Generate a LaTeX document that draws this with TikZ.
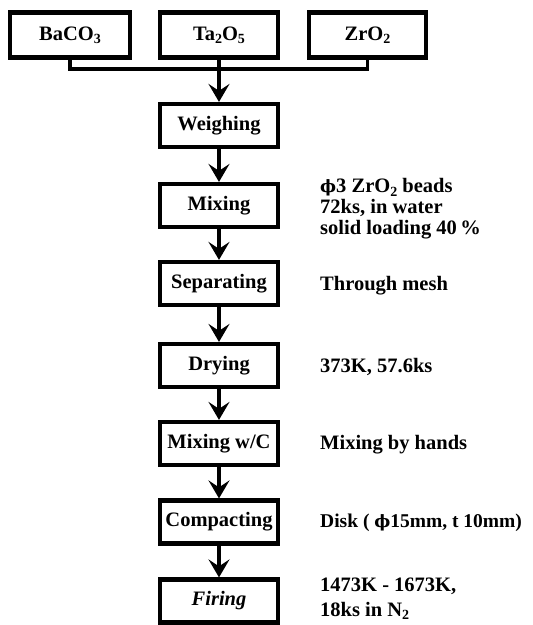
\documentclass[tikz,border=0pt]{standalone}
\usepackage{fontspec}
\setmainfont{Liberation Serif}
\newfontfamily\phifont{DejaVu Serif}
\usetikzlibrary{arrows.meta}
\newcommand{\lsub}[1]{\raisebox{-0.35ex}{\fontsize{14}{14}\selectfont #1}}
\newcommand{\phisym}{{\phifont\bfseries\fontsize{17}{17}\selectfont ϕ}}
\begin{document}
\begin{tikzpicture}[x=1pt,y=1pt,
  txt/.style={font=\fontsize{20.5}{22}\selectfont\bfseries},
  procbox/.style={draw, line width=4.2pt, minimum width=118pt, minimum height=43pt, inner sep=1pt, txt},
  srcbox/.style={procbox, minimum height=45pt},
  note/.style={anchor=west, align=left, inner sep=0pt, txt},
  conn/.style={line width=3.2pt},
  flow/.style={conn, -{Stealth[length=18pt,width=21pt,inset=7pt]}}
]
\useasboundingbox (0,0) rectangle (533,-625);
% source boxes
\node[srcbox, minimum width=120pt] (ba) at (70,-35) {BaCO\lsub{3}};
\node[srcbox] (ta) at (219,-35) {Ta\lsub{2}O\lsub{5}};
\node[srcbox, minimum width=117pt] (zr) at (367.5,-35) {ZrO\lsub{2}};
\coordinate (bar) at (219,-69);
% process boxes
\node[procbox] (w) at (219,-125.5) {Weighing};
\node[procbox] (m) at (219,-205.5) {Mixing};
\node[procbox] (s) at (219,-283.5) {Separating};
\node[procbox] (d) at (219,-365.5) {Drying};
\node[procbox] (mc) at (219,-443.5) {Mixing w/C};
\node[procbox] (c) at (219,-522) {Compacting};
\node[procbox] (f) at (219,-601) {\itshape Firing};
% connectors
\draw[conn] (ba.south) -- (ba.south |- bar) -- (zr.south |- bar) -- (zr.south);
\draw[flow] (ta.south) -- (w.north);
\draw[flow] (w) -- (m);
\draw[flow] (m) -- (s);
\draw[flow] (s) -- (d);
\draw[flow] (d) -- (mc);
\draw[flow] (mc) -- (c);
\draw[flow] (c) -- (f);
% notes
\node[note, font=\fontsize{20.5}{21}\selectfont\bfseries] (nm) at (320,-209) {\phisym3 ZrO\lsub{2} beads\\72ks, in water\\solid loading 40\,\%};
\node[note] (ns) at (320,-286) {Through mesh};
\node[note] (nd) at (320,-367) {373K, 57.6ks};
\node[note] (nmc) at (320,-445) {Mixing by hands};
\node[note, font=\fontsize{19.5}{22}\selectfont\bfseries] (nc) at (320,-523) {Disk ( \phisym15mm, t 10mm)};
\node[note, font=\fontsize{20.5}{24.5}\selectfont\bfseries] (nf) at (320,-599) {1473K - 1673K,\\18ks in N\lsub{2}};
\end{tikzpicture}
\end{document}
